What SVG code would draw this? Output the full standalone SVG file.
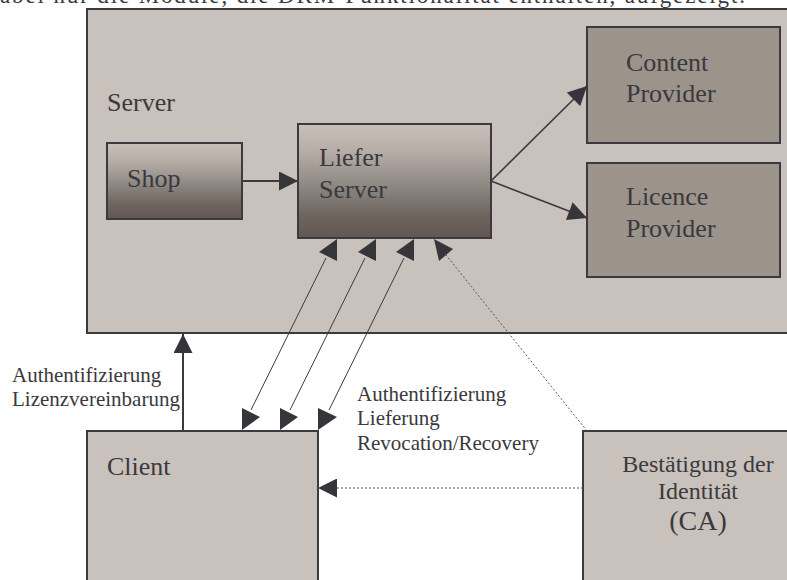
<svg xmlns="http://www.w3.org/2000/svg" width="787" height="580" viewBox="0 0 787 580">
  <style>
    text { font-family: "Liberation Serif", "Times New Roman", serif; fill: #3a393d; }
    .node { stroke: #3b3a3f; stroke-width: 2; }
    .big { font-size: 26px; }
    .small { font-size: 21px; }
    .solid { stroke: #3b3a3f; fill: none; }
    .thin { stroke: #3b3a3f; stroke-width: 1; fill: none; }
    .dotted { stroke: #55545a; stroke-width: 1; stroke-dasharray: 2 2; fill: none; }
    .head { fill: #36353a; }
  </style>
  <defs>
    <linearGradient id="shade" x1="0" y1="0" x2="0" y2="1">
      <stop offset="0" stop-color="#c8c0ba"/>
      <stop offset="0.25" stop-color="#b6aca6"/>
      <stop offset="0.55" stop-color="#8c8782"/>
      <stop offset="0.8" stop-color="#6f655f"/>
      <stop offset="1" stop-color="#625650"/>
    </linearGradient>
    <marker id="arrow" viewBox="0 0 20 20" refX="20" refY="10" markerWidth="20" markerHeight="19" markerUnits="userSpaceOnUse" orient="auto">
      <path d="M0,0 L20,10 L0,20 Z" fill="#36353a"/>
    </marker>
  </defs>

  <rect width="787" height="580" fill="#ffffff"/>

  <!-- running text line clipped at the top edge -->
  <text x="0" y="3" font-size="23" textLength="745" lengthAdjust="spacing">abei nur die Module, die DRM-Funktionalität enthalten, aufgezeigt.</text>

  <g id="server">
    <rect class="node" x="87" y="9" width="730" height="324" fill="#c9c1bb"/>
    <text class="big" x="107" y="111">Server</text>
  </g>

  <g id="shop">
    <rect class="node" x="107" y="143" width="135" height="76" fill="url(#shade)"/>
    <text class="big" x="127" y="187">Shop</text>
  </g>

  <g id="liefer-server">
    <rect class="node" x="298" y="124" width="193" height="114" fill="url(#shade)"/>
    <text class="big" x="319" y="166">Liefer</text>
    <text class="big" x="319" y="198">Server</text>
  </g>

  <g id="content-provider">
    <rect class="node" x="587" y="27" width="193" height="116" fill="#9c938a"/>
    <text class="big" x="626" y="71">Content</text>
    <text class="big" x="626" y="102">Provider</text>
  </g>

  <g id="licence-provider">
    <rect class="node" x="587" y="163" width="193" height="114" fill="#9c938a"/>
    <text class="big" x="626" y="205">Licence</text>
    <text class="big" x="626" y="237">Provider</text>
  </g>

  <g id="client">
    <rect class="node" x="87" y="431" width="231" height="200" fill="#c9c1bb"/>
    <text class="big" x="107" y="475">Client</text>
  </g>

  <g id="ca">
    <rect class="node" x="583" y="431" width="260" height="200" fill="#c9c1bb"/>
    <text x="698" y="472" font-size="24" text-anchor="middle">Bestätigung der</text>
    <text x="698" y="499" font-size="24" text-anchor="middle">Identität</text>
    <text x="698" y="530" font-size="28" text-anchor="middle">(CA)</text>
  </g>

  <g id="connectors">
    <line class="solid" stroke-width="2" x1="242" y1="181" x2="298" y2="181" marker-end="url(#arrow)"/>
    <line class="solid" stroke-width="1.6" x1="491" y1="181" x2="587" y2="86" marker-end="url(#arrow)"/>
    <line class="solid" stroke-width="1.6" x1="491" y1="181" x2="587" y2="218" marker-end="url(#arrow)"/>
    <line class="solid" stroke-width="2" x1="183" y1="431" x2="183" y2="334" marker-end="url(#arrow)"/>
    <line class="dotted" stroke-dasharray="3 2" x1="583" y1="488" x2="318" y2="488" marker-end="url(#arrow)"/>

    <!-- two-way links between client and delivery server -->
    <line class="thin" x1="326" y1="258" x2="251" y2="410"/>
    <line class="thin" x1="365" y1="258" x2="290" y2="410"/>
    <line class="thin" x1="404" y1="258" x2="329" y2="410"/>
    <polygon class="head" points="337,239 337,261 319,252"/>
    <polygon class="head" points="376,239 376,261 358,252"/>
    <polygon class="head" points="414,239 414,261 396,252"/>
    <polygon class="head" points="242,408 242,430 260,417"/>
    <polygon class="head" points="280,408 280,430 298,417"/>
    <polygon class="head" points="318,408 318,430 337,417"/>

    <!-- CA to delivery server -->
    <line class="dotted" x1="587" y1="431" x2="446" y2="255"/>
    <polygon class="head" points="434,239 453,249 439,261"/>
  </g>

  <g id="labels">
    <text class="small" x="12" y="382">Authentifizierung</text>
    <text class="small" x="12" y="406">Lizenzvereinbarung</text>
    <text class="small" x="357" y="401">Authentifizierung</text>
    <text class="small" x="357" y="425">Lieferung</text>
    <text class="small" x="357" y="450">Revocation/Recovery</text>
  </g>
</svg>
